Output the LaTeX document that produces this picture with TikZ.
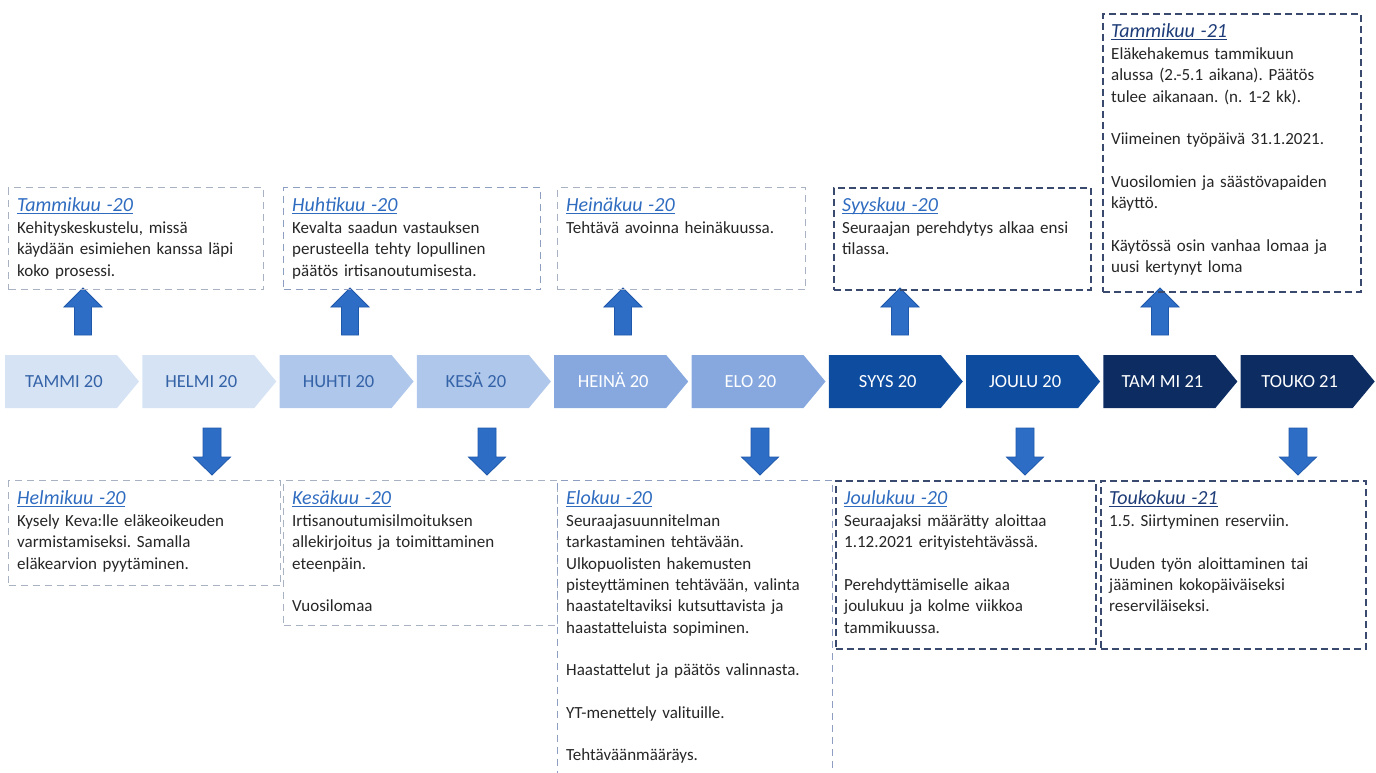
\documentclass[tikz,border=0pt]{standalone}
\usepackage{fontspec}
\setmainfont{Carlito}
\frenchspacing

\definecolor{kuuA}{HTML}{D6E3F4}
\definecolor{kuuB}{HTML}{AFC7EA}
\definecolor{kuuC}{HTML}{86A8DF}
\definecolor{kuuD}{HTML}{0E4C9F}
\definecolor{kuuE}{HTML}{0D2D62}
\definecolor{kuutxt}{HTML}{3563A8}
\definecolor{nuoli}{HTML}{2D6DC6}
\definecolor{nuolireuna}{HTML}{1F58AA}
\definecolor{harmaa}{HTML}{A9B2C2}
\definecolor{sinharmaa}{HTML}{8E9EC2}
\definecolor{tumma}{HTML}{3A4A6E}
\definecolor{otsikko}{HTML}{2F6CC0}
\definecolor{otsikkotumma}{HTML}{1E3C78}
\definecolor{teksti}{HTML}{262626}

\newcommand{\kuuotsikko}[2]{{\fontsize{20}{21.3}\selectfont\itshape\color{#1}%
  \setbox0=\hbox{#2}\rlap{\rule[-3.4pt]{\wd0}{1.8pt}}\box0}}

\tikzset{
  kuu/.style={font=\fontsize{18.5}{20}\selectfont, anchor=base},
  laatikko/.style={draw=#1, dash pattern=on 7pt off 5pt, line width=1pt,
    anchor=north west, inner sep=0pt},
  tummalaatikko/.style={draw=tumma, dash pattern=on 7pt off 4pt, line width=1.6pt,
    anchor=north west, inner sep=0pt},
  sisalto/.style={anchor=base west, inner sep=0pt, align=left, text width=255pt,
    font=\fontsize{17}{21.3}\selectfont, text=teksti},
  blockarrow/.style={fill=nuoli, draw=nuolireuna, line width=0.8pt, line join=miter}
}

\begin{document}
\begin{tikzpicture}[x=1pt,y=-1pt]
  \useasboundingbox (0,0) rectangle (1376,772);

  % aikajana
  \foreach \i/\nimi/\tay/\vari in {0/TAMMI 20/kuuA/kuutxt, 1/HELMI 20/kuuA/kuutxt,
      2/HUHTI 20/kuuB/kuutxt, 3/KESÄ 20/kuuB/kuutxt, 4/HEINÄ 20/kuuC/white,
      5/ELO 20/kuuC/white, 6/SYYS 20/kuuD/white, 7/JOULU 20/kuuD/white,
      8/TAM MI 21/kuuE/white, 9/TOUKO 21/kuuE/white}{
    \pgfmathsetmacro\x{5+137.3*\i}
    \fill[\tay] (\x,355) -- ++(112,0) -- ++(22,26.5) -- ++(-22,26.5) -- ++(-112,0) -- cycle;
    \node[kuu, text=\vari] (m\i) at (\x+59,387.5) {\nimi};
  }

  % nuolet ylos ja alas
  \foreach \x in {83,350,623,900,1160}
    \filldraw[blockarrow] (\x-8.5,335) -- (\x-8.5,307) -- (\x-19,307) -- (\x,288)
      -- (\x+19,307) -- (\x+8.5,307) -- (\x+8.5,335) -- cycle;
  \foreach \x in {212,487,760,1025,1298}
    \filldraw[blockarrow] (\x-9,428) -- (\x+9,428) -- (\x+9,457) -- (\x+18.5,457)
      -- (\x,475) -- (\x-18.5,457) -- (\x-9,457) -- cycle;

  % ylalaatikot
  \node[laatikko=harmaa, minimum width=255, minimum height=102] (top1) at (8,187) {};
  \node[sisalto] (top1t) at ([xshift=9pt,yshift=-24pt]top1.north west)
    {\kuuotsikko{otsikko}{Tammikuu -20}\\[1.2pt]
     Kehityskeskustelu, missä\\ käydään esimiehen kanssa läpi\\ koko prosessi.};

  \node[laatikko=sinharmaa, minimum width=257, minimum height=102] (top2) at (283,187) {};
  \node[sisalto] (top2t) at ([xshift=9pt,yshift=-24pt]top2.north west)
    {\kuuotsikko{otsikko}{Huhtikuu -20}\\[1.2pt]
     Kevalta saadun vastauksen\\ perusteella tehty lopullinen\\ päätös irtisanoutumisesta.};

  \node[laatikko=harmaa, minimum width=248, minimum height=102] (top3) at (557,187) {};
  \node[sisalto] (top3t) at ([xshift=9pt,yshift=-24pt]top3.north west)
    {\kuuotsikko{otsikko}{Heinäkuu -20}\\[1.2pt]
     Tehtävä avoinna heinäkuussa.};

  \node[tummalaatikko, minimum width=257, minimum height=102] (top4) at (833,187) {};
  \node[sisalto] (top4t) at ([xshift=9pt,yshift=-24pt]top4.north west)
    {\kuuotsikko{otsikko}{Syyskuu -20}\\[1.2pt]
     Seuraajan perehdytys alkaa ensi\\ tilassa.};

  \node[tummalaatikko, minimum width=258, minimum height=278] (top5) at (1102,13) {};
  \node[sisalto] (top5t) at ([xshift=9pt,yshift=-24pt]top5.north west)
    {\kuuotsikko{otsikkotumma}{Tammikuu -21}\\[1.2pt]
     Eläkehakemus tammikuun\\ alussa (2.-5.1 aikana). Päätös\\ tulee aikanaan. (n. 1-2 kk).\\[21.3pt]
     Viimeinen työpäivä 31.1.2021.\\[21.3pt]
     Vuosilomien ja säästövapaiden\\ käyttö.\\[21.3pt]
     Käytössä osin vanhaa lomaa ja\\ uusi kertynyt loma};

  % alalaatikot
  \node[laatikko=harmaa, minimum width=272, minimum height=105] (bot1) at (8,480) {};
  \node[sisalto] (bot1t) at ([xshift=9pt,yshift=-24pt]bot1.north west)
    {\kuuotsikko{otsikko}{Helmikuu -20}\\[1.2pt]
     Kysely Keva:lle eläkeoikeuden\\ varmistamiseksi. Samalla\\ eläkearvion pyytäminen.};

  \node[laatikko=harmaa, minimum width=274, minimum height=145] (bot2) at (283,480) {};
  \node[sisalto] (bot2t) at ([xshift=9pt,yshift=-24pt]bot2.north west)
    {\kuuotsikko{otsikko}{Kesäkuu -20}\\[1.2pt]
     Irtisanoutumisilmoituksen\\ allekirjoitus ja toimittaminen\\ eteenpäin.\\[21.3pt]
     Vuosilomaa};

  \node[laatikko=sinharmaa, minimum width=275, minimum height=300] (bot3) at (557,480) {};
  \node[sisalto] (bot3t) at ([xshift=9pt,yshift=-24pt]bot3.north west)
    {\kuuotsikko{otsikko}{Elokuu -20}\\[1.2pt]
     Seuraajasuunnitelman\\ tarkastaminen tehtävään.\\ Ulkopuolisten hakemusten\\
     pisteyttäminen tehtävään, valinta\\ haastateltaviksi kutsuttavista ja\\
     haastatteluista sopiminen.\\[21.3pt]
     Haastattelut ja päätös valinnasta.\\[21.3pt]
     YT-menettely valituille.\\[21.3pt]
     Tehtäväänmääräys.};

  \node[tummalaatikko, minimum width=260, minimum height=168] (bot4) at (835,480) {};
  \node[sisalto] (bot4t) at ([xshift=9pt,yshift=-24pt]bot4.north west)
    {\kuuotsikko{otsikko}{Joulukuu -20}\\[1.2pt]
     Seuraajaksi määrätty aloittaa\\ 1.12.2021 erityistehtävässä.\\[21.3pt]
     Perehdyttämiselle aikaa\\ joulukuu ja kolme viikkoa\\ tammikuussa.};

  \node[tummalaatikko, minimum width=265, minimum height=168] (bot5) at (1100,480) {};
  \node[sisalto] (bot5t) at ([xshift=9pt,yshift=-24pt]bot5.north west)
    {\kuuotsikko{otsikkotumma}{Toukokuu -21}\\[1.2pt]
     1.5. Siirtyminen reserviin.\\[21.3pt]
     Uuden työn aloittaminen tai\\ jääminen kokopäiväiseksi\\ reserviläiseksi.};
\end{tikzpicture}
\end{document}
